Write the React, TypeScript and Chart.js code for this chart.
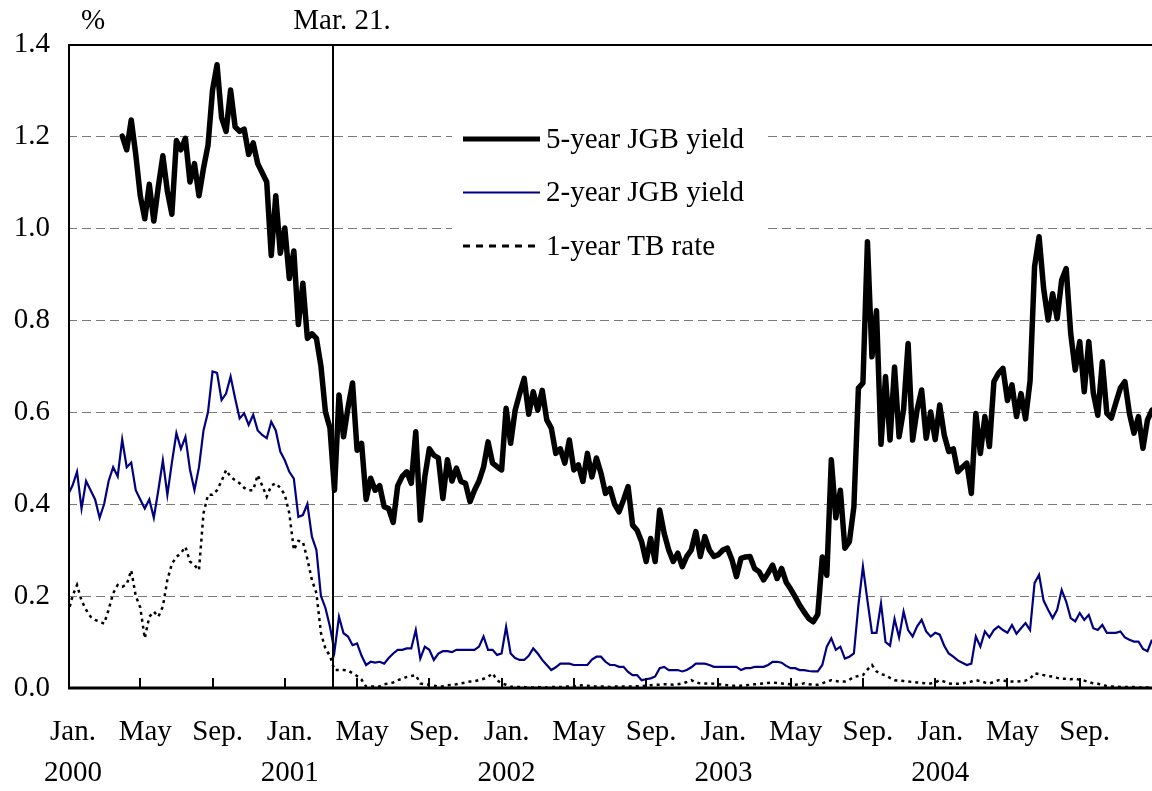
import React, { useEffect, useRef } from "react";
import { Chart, registerables } from "chart.js";

Chart.register(...registerables);

// ---- time axis: observations every quarter month, Jan 2000 = month 0 ----
const STEP = 0.25;
const months: number[] = Array.from({ length: 241 }, (_, i) => i * STEP);
const fiveYearStartIndex = 12; // first 5-year observation (early Apr. 2000)

// ---- series values (%) ----
const fiveYearJGB: number[] = [
  1.20, 1.17, 1.235, 1.16,
  1.07, 1.02, 1.095, 1.015,
  1.09, 1.157, 1.08, 1.03,
  1.19, 1.17, 1.195, 1.10,
  1.14, 1.07, 1.13, 1.18,
  1.30, 1.355, 1.24, 1.21,
  1.30, 1.22, 1.21, 1.215,
  1.16, 1.185, 1.14, 1.12,
  1.10, 0.94, 1.07, 0.945,
  1.00, 0.89, 0.95, 0.79,
  0.88, 0.76, 0.77, 0.76,
  0.70, 0.60, 0.565, 0.43,
  0.637, 0.546, 0.61, 0.663,
  0.517, 0.532, 0.41, 0.456,
  0.43, 0.44, 0.394, 0.39,
  0.36, 0.44, 0.46, 0.47,
  0.445, 0.557, 0.365, 0.459,
  0.52, 0.506, 0.50, 0.412,
  0.496, 0.45, 0.478, 0.449,
  0.445, 0.405, 0.43, 0.45,
  0.48, 0.535, 0.489, 0.481,
  0.474, 0.608, 0.532, 0.604,
  0.64, 0.673, 0.595, 0.644,
  0.604, 0.647, 0.583, 0.565,
  0.51, 0.52, 0.489, 0.539,
  0.474, 0.485, 0.449, 0.51,
  0.459, 0.50, 0.467, 0.423,
  0.434, 0.40, 0.383, 0.409,
  0.438, 0.354, 0.343, 0.318,
  0.275, 0.325, 0.275, 0.387,
  0.336, 0.30, 0.275, 0.293,
  0.264, 0.286, 0.30, 0.34,
  0.286, 0.329, 0.30, 0.286,
  0.29, 0.30, 0.304, 0.279,
  0.242, 0.282, 0.285, 0.286,
  0.26, 0.253, 0.235, 0.25,
  0.267, 0.238, 0.26, 0.23,
  0.215, 0.198, 0.18, 0.165,
  0.151, 0.144, 0.16, 0.285,
  0.245, 0.496, 0.37, 0.43,
  0.304, 0.318, 0.394, 0.652,
  0.663, 0.97, 0.72, 0.82,
  0.53, 0.677, 0.539, 0.698,
  0.546, 0.605, 0.749, 0.539,
  0.605, 0.648, 0.543, 0.60,
  0.54, 0.615, 0.55, 0.514,
  0.52, 0.47, 0.48, 0.489,
  0.423, 0.597, 0.51, 0.59,
  0.525, 0.666, 0.684, 0.695,
  0.625, 0.659, 0.59, 0.64,
  0.585, 0.667, 0.916, 0.981,
  0.869, 0.80, 0.857, 0.803,
  0.887, 0.912, 0.771, 0.691,
  0.753, 0.644, 0.753, 0.642,
  0.593, 0.709, 0.597, 0.587,
  0.62, 0.652, 0.666, 0.597,
  0.554, 0.59, 0.521, 0.583,
  0.604,
];

const twoYearJGB: number[] = [
  0.42, 0.44, 0.47, 0.39,
  0.45, 0.43, 0.41, 0.37,
  0.40, 0.45, 0.48, 0.46,
  0.54, 0.48, 0.49, 0.43,
  0.41, 0.39, 0.41, 0.37,
  0.43, 0.495, 0.42, 0.49,
  0.554, 0.52, 0.546, 0.475,
  0.43, 0.48, 0.56, 0.60,
  0.688, 0.685, 0.626, 0.64,
  0.677, 0.63, 0.586, 0.597,
  0.572, 0.594, 0.56, 0.55,
  0.543, 0.579, 0.56, 0.514,
  0.495, 0.47, 0.455, 0.372,
  0.376, 0.40, 0.329, 0.30,
  0.20, 0.174, 0.133, 0.08,
  0.155, 0.119, 0.112, 0.093,
  0.097, 0.07, 0.05, 0.057,
  0.055, 0.057, 0.053, 0.065,
  0.075, 0.083, 0.083, 0.086,
  0.086, 0.126, 0.064, 0.09,
  0.083, 0.061, 0.075, 0.08,
  0.08, 0.078, 0.083, 0.083,
  0.083, 0.083, 0.083, 0.09,
  0.112, 0.083, 0.083, 0.072,
  0.075, 0.133, 0.075, 0.065,
  0.061, 0.061, 0.07, 0.086,
  0.075, 0.061, 0.05, 0.039,
  0.045, 0.053, 0.053, 0.053,
  0.05, 0.05, 0.05, 0.05,
  0.062, 0.068, 0.068, 0.057,
  0.05, 0.05, 0.046, 0.046,
  0.035, 0.028, 0.028, 0.017,
  0.019, 0.021, 0.025, 0.043,
  0.046, 0.039, 0.039, 0.039,
  0.036, 0.039, 0.045, 0.053,
  0.053, 0.053, 0.05, 0.046,
  0.046, 0.046, 0.046, 0.046,
  0.046, 0.039, 0.043, 0.043,
  0.046, 0.046, 0.046, 0.05,
  0.057, 0.057, 0.055, 0.048,
  0.043, 0.043, 0.039, 0.039,
  0.037, 0.036, 0.036, 0.05,
  0.09, 0.108, 0.083, 0.09,
  0.064, 0.068, 0.075, 0.18,
  0.264, 0.19, 0.12, 0.12,
  0.184, 0.10, 0.092, 0.15,
  0.11, 0.166, 0.126, 0.112,
  0.134, 0.148, 0.123, 0.112,
  0.12, 0.116, 0.092, 0.075,
  0.068, 0.06, 0.055, 0.05,
  0.053, 0.112, 0.09, 0.123,
  0.11, 0.126, 0.134, 0.126,
  0.12, 0.137, 0.118, 0.13,
  0.141, 0.126, 0.228, 0.246,
  0.19, 0.17, 0.152, 0.17,
  0.213, 0.188, 0.152, 0.145,
  0.163, 0.148, 0.159, 0.13,
  0.126, 0.137, 0.12, 0.12,
  0.12, 0.123, 0.11, 0.105,
  0.101, 0.101, 0.085, 0.08,
  0.105,
];

const oneYearTB: number[] = [
  0.162, 0.20, 0.224, 0.19,
  0.17, 0.155, 0.148, 0.144,
  0.14, 0.17, 0.206, 0.224,
  0.22, 0.225, 0.256, 0.20,
  0.175, 0.108, 0.155, 0.166,
  0.155, 0.177, 0.235, 0.27,
  0.285, 0.293, 0.307, 0.275,
  0.267, 0.256, 0.38, 0.42,
  0.42, 0.43, 0.45, 0.474,
  0.459, 0.452, 0.445, 0.435,
  0.43, 0.43, 0.463, 0.44,
  0.416, 0.44, 0.445, 0.435,
  0.42, 0.38, 0.30, 0.32,
  0.318, 0.28, 0.235, 0.206,
  0.12, 0.085, 0.07, 0.039,
  0.039, 0.039, 0.038, 0.032,
  0.026, 0.018, 0.003, 0.003,
  0.003, 0.003, 0.008, 0.01,
  0.012, 0.017, 0.02, 0.024,
  0.026, 0.028, 0.01, 0.008,
  0.007, 0.005, 0.003, 0.004,
  0.006, 0.007, 0.008, 0.01,
  0.012, 0.014, 0.015, 0.017,
  0.02, 0.024, 0.032, 0.017,
  0.01, 0.007, 0.003, 0.002,
  0.002, 0.002, 0.001, 0.001,
  0.002, 0.001, 0.001, 0.002,
  0.002, 0.002, 0.003, 0.003,
  0.004, 0.005, 0.006, 0.005,
  0.004, 0.003, 0.003, 0.003,
  0.002, 0.003, 0.003, 0.003,
  0.003, 0.003, 0.004, 0.004,
  0.005, 0.006, 0.007, 0.007,
  0.008, 0.008, 0.007, 0.008,
  0.01, 0.013, 0.017, 0.012,
  0.01, 0.01, 0.01, 0.009,
  0.008, 0.007, 0.006, 0.005,
  0.005, 0.005, 0.006, 0.007,
  0.008, 0.009, 0.01, 0.011,
  0.012, 0.011, 0.01, 0.009,
  0.008, 0.007, 0.008, 0.01,
  0.008, 0.007, 0.007, 0.01,
  0.014, 0.017, 0.015, 0.014,
  0.014, 0.018, 0.024, 0.026,
  0.028, 0.04, 0.05, 0.036,
  0.03, 0.028, 0.022, 0.017,
  0.016, 0.015, 0.014, 0.013,
  0.012, 0.011, 0.01, 0.01,
  0.012, 0.017, 0.014, 0.01,
  0.009, 0.009, 0.01, 0.012,
  0.014, 0.017, 0.015, 0.012,
  0.01, 0.013, 0.017, 0.016,
  0.015, 0.014, 0.014, 0.015,
  0.016, 0.02, 0.032, 0.03,
  0.028, 0.026, 0.025, 0.022,
  0.02, 0.02, 0.019, 0.02,
  0.018, 0.016, 0.013, 0.01,
  0.009, 0.007, 0.004, 0.003,
  0.003, 0.002, 0.002, 0.002,
  0.002, 0.001, 0.001, 0.001,
  0.001,
];

// ---- axis ticks and labels ----
const tickMonths = [0, 4, 8, 12, 16, 20, 24, 28, 32, 36, 40, 44, 48, 52, 56];
const tickLabels = ["Jan.", "May", "Sep.", "Jan.", "May", "Sep.", "Jan.", "May", "Sep.", "Jan.", "May", "Sep.", "Jan.", "May", "Sep."];
const tickYears = ["2000", "", "", "2001", "", "", "2002", "", "", "2003", "", "", "2004", "", ""];
const yTicks = [0, 0.2, 0.4, 0.6, 0.8, 1.0, 1.2, 1.4];
const gridValues = [0.2, 0.4, 0.6, 0.8, 1.0, 1.2];
const markerMonth = 14.67; // Mar. 21, 2001
const markerLabel = "Mar. 21.";
const unitLabel = "%";
const seriesNames = ["5-year JGB yield", "2-year JGB yield", "1-year TB rate"];

const FONT = "'Liberation Serif', 'Times New Roman', serif";
const FONT_SIZE = 29;
const NAVY = "#000080";

const decorPlugin = {
  id: "decor",
  beforeDatasetsDraw(chart: any) {
    const { ctx, chartArea: a, scales } = chart;
    const y = scales.y;
    ctx.save();
    ctx.strokeStyle = "#7a7a7a";
    ctx.lineWidth = 1;
    ctx.setLineDash([9, 5]);
    for (const v of gridValues) {
      const py = Math.round(y.getPixelForValue(v)) + 0.5;
      ctx.beginPath();
      ctx.moveTo(a.left, py);
      ctx.lineTo(a.right, py);
      ctx.stroke();
    }
    ctx.restore();
  },
  afterDatasetsDraw(chart: any) {
    const { ctx, chartArea: a, scales } = chart;
    const x = scales.x;
    ctx.save();
    ctx.setLineDash([]);
    ctx.strokeStyle = "#000";

    // marker line (Mar. 21, 2001)
    const mx = Math.round(x.getPixelForValue(markerMonth));
    ctx.lineWidth = 2;
    ctx.beginPath();
    ctx.moveTo(mx, a.top);
    ctx.lineTo(mx, a.bottom);
    ctx.stroke();

    // frame: left axis, top border, bottom axis
    ctx.lineWidth = 2;
    ctx.beginPath();
    ctx.moveTo(a.left + 1, a.top);
    ctx.lineTo(a.left + 1, a.bottom);
    ctx.stroke();
    ctx.beginPath();
    ctx.moveTo(a.left, a.top + 1);
    ctx.lineTo(a.right, a.top + 1);
    ctx.stroke();
    ctx.lineWidth = 3;
    ctx.beginPath();
    ctx.moveTo(a.left, a.bottom);
    ctx.lineTo(a.right, a.bottom);
    ctx.stroke();

    // inward tick marks
    ctx.lineWidth = 2;
    for (const m of tickMonths) {
      if (m === 0) continue;
      const px = Math.round(x.getPixelForValue(m));
      ctx.beginPath();
      ctx.moveTo(px, a.bottom);
      ctx.lineTo(px, a.bottom - 10);
      ctx.stroke();
    }

    // legend box
    ctx.fillStyle = "#fff";
    ctx.fillRect(452, 112, 316, 158);
    const rows = [139, 192.5, 246];
    const styles = [
      { color: "#000", width: 5, dash: [] as number[] },
      { color: NAVY, width: 2, dash: [] as number[] },
      { color: "#000", width: 3, dash: [7, 6] },
    ];
    for (let i = 0; i < 3; i++) {
      ctx.strokeStyle = styles[i].color;
      ctx.lineWidth = styles[i].width;
      ctx.setLineDash(styles[i].dash);
      ctx.beginPath();
      ctx.moveTo(463, rows[i]);
      ctx.lineTo(540, rows[i]);
      ctx.stroke();
    }
    ctx.setLineDash([]);
    ctx.fillStyle = "#000";
    ctx.font = `${FONT_SIZE}px ${FONT}`;
    ctx.textAlign = "left";
    ctx.textBaseline = "middle";
    for (let i = 0; i < 3; i++) {
      ctx.fillText(seriesNames[i], 546, rows[i] + 1);
    }

    // header texts
    ctx.textAlign = "center";
    ctx.textBaseline = "alphabetic";
    ctx.fillText(unitLabel, 93, 29);
    ctx.fillText(markerLabel, mx + 9, 29);
    ctx.restore();
  },
};

export default function App() {
  const canvasRef = useRef<HTMLCanvasElement | null>(null);

  useEffect(() => {
    const canvas = canvasRef.current;
    if (!canvas) return;
    const five = fiveYearJGB.map((v, i) => ({ x: months[fiveYearStartIndex + i], y: v }));
    const two = twoYearJGB.map((v, i) => ({ x: months[i], y: v }));
    const tb = oneYearTB.map((v, i) => ({ x: months[i], y: v }));

    const chart = new Chart(canvas, {
      type: "line",
      data: {
        datasets: [
          {
            label: seriesNames[0],
            data: five,
            borderColor: "#000",
            borderWidth: 5.5,
            pointRadius: 0,
            tension: 0,
            borderJoinStyle: "round",
            borderCapStyle: "round",
          },
          {
            label: seriesNames[1],
            data: two,
            borderColor: NAVY,
            borderWidth: 2.2,
            pointRadius: 0,
            tension: 0,
          },
          {
            label: seriesNames[2],
            data: tb,
            borderColor: "#000",
            borderWidth: 2.5,
            borderDash: [3, 4],
            pointRadius: 0,
            tension: 0,
          },
        ],
      },
      options: {
        responsive: false,
        animation: false,
        events: [],
        layout: { padding: { top: 44, left: 0, right: 0, bottom: 0 } },
        plugins: {
          legend: { display: false },
          tooltip: { enabled: false },
        },
        scales: {
          x: {
            type: "linear",
            min: 0,
            max: 60,
            afterBuildTicks: (s: any) => {
              s.ticks = tickMonths.map((v) => ({ value: v }));
            },
            afterFit: (s: any) => {
              s.height = 103;
            },
            grid: { display: false, drawTicks: false },
            border: { display: false },
            ticks: {
              autoSkip: false,
              maxRotation: 0,
              minRotation: 0,
              padding: 24,
              labelOffset: 5,
              color: "#000",
              font: { family: FONT, size: FONT_SIZE, lineHeight: 41 / FONT_SIZE },
              callback: (v: any) => {
                const i = tickMonths.indexOf(Number(v));
                return i < 0 ? "" : [tickLabels[i], tickYears[i]];
              },
            },
          },
          y: {
            type: "linear",
            min: 0,
            max: 1.4,
            afterBuildTicks: (s: any) => {
              s.ticks = yTicks.map((v) => ({ value: v }));
            },
            afterFit: (s: any) => {
              s.width = 68;
            },
            grid: { display: false, drawTicks: false },
            border: { display: false },
            ticks: {
              padding: 18,
              color: "#000",
              font: { family: FONT, size: FONT_SIZE },
              callback: (v: any) => Number(v).toFixed(1),
            },
          },
        },
      },
      plugins: [decorPlugin],
    } as any);

    return () => chart.destroy();
  }, []);

  return (
    <canvas
      ref={canvasRef}
      width={1152}
      height={791}
      style={{ position: "fixed", left: 0, top: 0, width: "1152px", height: "791px", background: "#fff" }}
    />
  );
}
